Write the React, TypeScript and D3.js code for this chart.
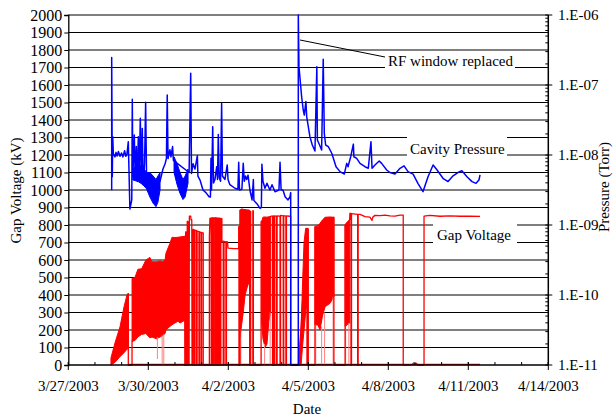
import React, { useEffect, useRef } from "react"
import * as d3 from "d3"

// day offsets are counted from 3/27/2003 00:00
const START = Date.UTC(2003, 2, 27)
const toDate = (d: number) => new Date(START + d * 864e5)

const dateTicks = [0, 3, 6, 9, 12, 15, 18]
const pressureTicks = [1e-11, 1e-10, 1e-9, 1e-8, 1e-7, 1e-6]

// Cavity pressure (Torr): [day, pressure]
const pressureTrace: [number, number][] = [
	[1.627, 3.13e-9], [1.627, 2.48e-7], [1.65, 4.9e-9], [1.665, 1.83e-8], [1.69, 1.04e-8],
	[1.75, 9.4e-9], [1.79, 1.09e-8], [1.83, 9.7e-9], [1.88, 1.12e-8], [1.94, 9.6e-9],
	[1.995, 1.07e-8], [2.05, 9.4e-9], [2.11, 1.15e-8], [2.16, 9.6e-9], [2.2, 1.03e-8],
	[2.25, 1.55e-8], [2.31, 1.69e-9], [2.38, 2.28e-9], [2.4, 6.24e-8], [2.42, 4.9e-9],
	[2.475, 1.93e-8], [2.51, 4.39e-9], [2.55, 1.32e-8], [2.59, 4.17e-9], [2.625, 1.83e-8],
	[2.66, 4.9e-9], [2.7, 3.35e-8], [2.74, 4.65e-9], [2.775, 2.4e-8], [2.81, 3.74e-9],
	[2.86, 7.5e-9], [2.9, 5.65e-8], [2.94, 3.53e-9], [3.44, 4.22e-9], [3.55, 6.3e-9],
	[3.63, 7.5e-9], [3.68, 8.96e-9], [3.71, 7.2e-8], [3.74, 8.9e-9], [3.81, 1.19e-8],
	[3.85, 9.4e-9], [3.91, 1.32e-8], [3.94, 8.4e-9], [4.53, 5.62e-9], [4.59, 1.47e-7],
	[4.62, 5.46e-9], [4.68, 7.5e-9], [4.75, 6.3e-9], [4.84, 9.8e-9], [4.86, 5.0e-9],
	[4.94, 4.39e-9], [5.05, 3.16e-9], [5.16, 2.9e-9], [5.28, 2.54e-9], [5.33, 2.51e-9],
	[5.35, 8.96e-9], [5.37, 3.16e-9], [5.415, 2.54e-8], [5.445, 3.98e-9], [5.5, 4.47e-9],
	[5.565, 6.8e-9], [5.595, 4.47e-9], [5.625, 1.97e-8], [5.66, 4.73e-9], [5.71, 4.22e-9],
	[5.75, 5.46e-8], [5.78, 5.0e-9], [5.875, 4.47e-9], [5.96, 7.2e-9], [5.99, 4.47e-9],
	[6.06, 3.76e-9], [6.25, 3.35e-9], [6.36, 3.25e-9], [6.39, 7.85e-9], [6.42, 3.16e-9],
	[6.51, 3.25e-9], [6.56, 7.6e-9], [6.6, 4.22e-9], [6.645, 5.0e-9], [6.69, 4.47e-9],
	[6.74, 5.16e-9], [6.81, 3.16e-9], [6.89, 2.28e-9], [6.94, 4.47e-9], [6.96, 2.24e-9],
	[7.08, 2.0e-9], [7.19, 1.73e-9], [7.24, 1.78e-9], [7.26, 7.4e-9], [7.3, 4.22e-9],
	[7.375, 3.35e-9], [7.45, 3.94e-9], [7.56, 3.16e-9], [7.64, 3.76e-9], [7.75, 2.99e-9],
	[7.9, 3.16e-9], [7.94, 7.85e-9], [7.98, 3.16e-9], [8.05, 3.16e-9], [8.13, 2.54e-9],
	[8.24, 2.28e-9], [8.31, 2.51e-9], [8.34, 2.9e-9], [8.34, 1e-11], [8.625, 1e-11],
	[8.625, 1e-6], [8.65, 1.83e-7], [8.69, 1.24e-7], [8.75, 6.8e-8], [8.81, 4.39e-8],
	[8.85, 3.72e-8], [8.91, 5.8e-8], [8.94, 3.53e-8], [9.0, 2.54e-8], [9.06, 1.83e-8],
	[9.15, 1.39e-8], [9.25, 1.14e-8], [9.32, 1.83e-7], [9.34, 1.64e-8], [9.415, 1.41e-8],
	[9.5, 1.18e-8], [9.56, 2.33e-7], [9.6, 2.04e-8], [9.65, 1.39e-8], [9.75, 1.32e-8],
	[9.88, 1.06e-8], [9.96, 8.46e-9], [10.04, 6.8e-9], [10.19, 5.79e-9], [10.35, 5.34e-9],
	[10.44, 7.59e-9], [10.49, 6.8e-9], [10.59, 9.44e-9], [10.69, 1.43e-8], [10.71, 9.44e-9],
	[10.815, 8.96e-9], [10.94, 7.59e-9], [11.125, 6.8e-9], [11.25, 6.46e-9], [11.35, 1.55e-8],
	[11.39, 6.46e-9], [11.5, 7.2e-9], [11.66, 8.22e-9], [11.75, 7.59e-9], [11.94, 6.1e-9],
	[12.06, 5.62e-9], [12.25, 5.34e-9], [12.44, 6.46e-9], [12.59, 7.0e-9], [12.74, 5.79e-9],
	[12.93, 5.34e-9], [13.11, 3.94e-9], [13.3, 2.99e-9], [13.49, 4.9e-9], [13.68, 7.2e-9],
	[13.83, 6.1e-9], [14.05, 4.65e-9], [14.24, 4.17e-9], [14.43, 5.04e-9], [14.61, 5.62e-9],
	[14.76, 5.96e-9], [14.95, 4.9e-9], [15.14, 4.17e-9], [15.29, 3.94e-9], [15.4, 4.39e-9],
	[15.44, 5.19e-9],
]

// dense pressure oscillation: [day, low, high]
const pressureBands: [number, number, number][][] = [
	[
		[2.42, 4.4e-9, 6.3e-9], [2.61, 4.2e-9, 7.5e-9], [2.8, 3.76e-9, 6.7e-9], [2.93, 3.3e-9, 5.62e-9],
		[3.06, 2.51e-9, 5.62e-9], [3.18, 2.05e-9, 5.0e-9], [3.29, 1.83e-9, 4.47e-9],
		[3.36, 2.11e-9, 5.0e-9], [3.44, 3.16e-9, 5.62e-9],
	],
	[
		[3.965, 5.62e-9, 9.4e-9], [4.08, 3.76e-9, 7.5e-9], [4.19, 2.82e-9, 5.62e-9],
		[4.3, 2.31e-9, 4.47e-9], [4.38, 2.51e-9, 5.0e-9], [4.49, 3.98e-9, 6.3e-9],
	],
]

// Gap voltage (kV): [day, kV]
const gapTrace: [number, number][] = [
	[2.25, 410], [2.25, 0], [2.39, 0], [2.39, 135], [4.36, 735], [4.37, 0], [4.4, 0], [4.4, 760],
	[4.42, 760], [4.42, 0], [4.46, 0], [4.46, 820], [4.49, 820], [4.5, 0], [4.53, 0], [4.54, 850],
	[4.59, 851], [4.6, 830], [4.63, 830], [4.64, 0], [4.68, 0], [4.68, 775], [4.73, 771], [4.73, 0],
	[4.75, 0], [4.75, 770], [4.81, 768], [4.81, 0], [4.83, 0], [4.83, 765], [4.9, 762], [4.9, 0],
	[4.92, 0], [4.92, 760], [4.98, 758], [4.98, 0], [5.0, 0], [5.0, 757], [5.06, 755], [5.06, 0],
	[5.29, 0], [5.29, 733], [5.31, 838], [5.35, 840], [5.36, 0], [5.38, 0], [5.38, 840], [5.42, 842],
	[5.42, 0], [5.45, 0], [5.45, 841], [5.5, 840], [5.5, 0], [5.53, 0], [5.53, 842], [5.57, 840],
	[5.57, 0], [5.59, 0], [5.59, 840], [5.62, 838], [5.62, 0], [5.65, 0], [5.65, 840], [5.69, 838],
	[5.69, 0], [5.72, 0], [5.72, 838], [5.76, 836], [5.76, 705], [5.81, 708], [5.81, 0], [5.84, 0],
	[5.84, 706], [5.91, 704], [5.91, 0], [5.93, 0], [5.93, 705], [5.97, 703], [5.99, 668],
	[6.2, 665], [6.39, 667], [6.39, 790], [6.4, 790], [6.4, 0], [6.44, 0], [6.44, 885], [6.79, 884],
	[6.8, 880], [6.8, 0], [6.82, 0], [6.82, 878], [6.84, 878], [6.84, 0], [6.92, 0], [6.92, 882],
	[6.94, 880], [6.94, 0], [7.23, 0], [7.23, 819], [7.25, 820], [7.59, 848], [7.6, 851],
	[7.66, 851], [7.66, 0], [7.68, 0], [7.68, 852], [7.71, 851], [7.71, 0], [7.74, 0], [7.74, 852],
	[7.81, 850], [7.81, 0], [7.83, 0], [7.83, 852], [7.94, 851], [7.94, 0], [7.96, 0], [7.96, 855],
	[8.06, 852], [8.06, 0], [8.08, 0], [8.08, 853], [8.16, 851], [8.16, 0], [8.18, 0], [8.18, 852],
	[8.3, 850], [8.34, 850], [8.34, 0], [8.64, 0], [8.95, 781], [8.95, 0], [8.97, 0], [8.97, 780],
	[9.0, 778], [9.0, 0], [9.25, 0], [9.25, 790], [9.96, 844], [9.96, 0], [10.38, 0], [10.38, 800],
	[10.55, 829], [10.56, 867], [10.6, 866], [10.6, 0], [10.62, 0], [10.62, 865], [10.85, 861],
	[10.85, 0], [10.87, 0], [10.87, 861], [10.94, 861], [11.13, 848], [11.31, 845], [11.39, 826],
	[11.42, 845], [11.5, 855], [11.69, 853], [11.88, 856], [12.06, 852], [12.25, 851], [12.44, 857],
	[12.56, 856], [12.56, 0], [12.88, 2], [12.95, 12], [13.0, 6], [13.06, 10], [13.1, 0], [13.34, 0],
	[13.34, 851], [13.56, 855], [13.94, 850], [14.31, 852], [14.69, 850], [15.06, 851], [15.44, 849],
]

// dense conditioning pulses: [day, low kV, high kV]
const gapBands: [number, number, number][][] = [
	[[1.6, 0, 40], [1.75, 15, 126], [1.94, 48, 219], [2.09, 70, 333], [2.2, 90, 400], [2.25, 95, 410]],
	[
		[2.39, 135, 495], [2.5, 140, 500], [2.61, 160, 547], [2.75, 175, 550], [2.91, 180, 600],
		[3.06, 155, 615], [3.14, 160, 590], [3.3, 150, 590], [3.44, 160, 595], [3.55, 170, 590],
		[3.63, 180, 600], [3.66, 200, 638], [3.81, 220, 695], [3.89, 230, 730], [4.0, 240, 728],
		[4.11, 250, 730], [4.19, 240, 732], [4.36, 255, 735],
	],
	[[6.44, 160, 885], [6.5, 230, 892], [6.56, 300, 890], [6.63, 400, 888], [6.7, 440, 886], [6.79, 480, 884]],
	[[7.25, 250, 820], [7.3, 150, 845], [7.38, 100, 846], [7.45, 120, 845], [7.52, 250, 847], [7.59, 300, 848]],
	[[8.64, 0, 60], [8.73, 0, 181], [8.78, 100, 450], [8.84, 200, 700], [8.9, 300, 781], [8.95, 350, 781]],
	[[9.25, 230, 790], [9.36, 228, 790], [9.44, 200, 810], [9.53, 280, 829], [9.63, 333, 844], [9.81, 352, 846], [9.96, 390, 844]],
	[[10.38, 220, 800], [10.46, 230, 815], [10.55, 240, 829]],
]

// short trips inside the dense parts: [day, low kV, high kV]
const gapDips: [number, number, number][] = [
	[3.34, 34, 160], [3.52, 0, 170], [3.58, 0, 175], [6.47, 0, 200], [7.36, 0, 120], [7.57, 0, 300],
	[9.28, 0, 230], [9.5, 0, 220], [9.61, 0, 300], [9.93, 0, 390], [10.4, 0, 220], [10.52, 0, 240],
]

const FONT = "'Liberation Serif', 'Times New Roman', serif"

const App = () => {
	const ref = useRef<SVGSVGElement>(null)

	useEffect(() => {
		const left = 68.3
		const right = 548.3
		const top = 15
		const bottom = 365

		const x = d3.scaleUtc().domain([toDate(0), toDate(18)]).range([left, right])
		const yV = d3.scaleLinear().domain([0, 2000]).range([bottom, top])
		const yP = d3.scaleLog().domain([1e-11, 1e-6]).range([bottom, top])

		const svg = d3.select(ref.current)
		svg.selectAll("*").remove()

		// gridlines
		svg
			.append("g")
			.selectAll("line")
			.data(yV.ticks(20).filter(d => d > 0))
			.enter()
			.append("line")
			.attr("x1", left)
			.attr("x2", right)
			.attr("y1", d => yV(d))
			.attr("y2", d => yV(d))
			.attr("stroke", "#000")
			.attr("stroke-width", 1)

		// white boxes behind the labels
		const boxes = [
			[385, 53, 130, 18],
			[407, 135, 100, 24],
			[433, 221, 84, 26],
		]
		svg
			.append("g")
			.selectAll("rect")
			.data(boxes)
			.enter()
			.append("rect")
			.attr("x", d => d[0])
			.attr("y", d => d[1])
			.attr("width", d => d[2])
			.attr("height", d => d[3])
			.attr("fill", "#fff")

		const RED = "#ff0000"
		const BLUE = "#0000ff"

		// Gap voltage
		const gapArea = d3
			.area<[number, number, number]>()
			.x(d => x(toDate(d[0])))
			.y0(d => yV(d[1]))
			.y1(d => yV(d[2]))
		const g = svg.append("g")
		gapBands.forEach(band => {
			g.append("path")
				.attr("d", gapArea(band))
				.attr("fill", RED)
				.attr("stroke", RED)
				.attr("stroke-width", 1)
		})
		g.append("line")
			.attr("x1", x(toDate(2.25)))
			.attr("x2", x(toDate(15.44)))
			.attr("y1", yV(0) - 0.5)
			.attr("y2", yV(0) - 0.5)
			.attr("stroke", RED)
			.attr("stroke-width", 1.5)
		g.selectAll("line.dip")
			.data(gapDips)
			.enter()
			.append("line")
			.attr("class", "dip")
			.attr("x1", d => x(toDate(d[0])))
			.attr("x2", d => x(toDate(d[0])))
			.attr("y1", d => yV(d[1]))
			.attr("y2", d => yV(d[2]))
			.attr("stroke", "#ff8080")
			.attr("stroke-width", 1)
		g.append("path")
			.attr(
				"d",
				d3
					.line<[number, number]>()
					.x(d => x(toDate(d[0])))
					.y(d => yV(d[1]))(gapTrace),
			)
			.attr("fill", "none")
			.attr("stroke", RED)
			.attr("stroke-width", 1.3)
			.attr("stroke-linejoin", "round")

		// Cavity pressure
		const pArea = d3
			.area<[number, number, number]>()
			.x(d => x(toDate(d[0])))
			.y0(d => yP(d[1]))
			.y1(d => yP(d[2]))
		const p = svg.append("g")
		pressureBands.forEach(band => {
			p.append("path")
				.attr("d", pArea(band))
				.attr("fill", BLUE)
				.attr("stroke", BLUE)
				.attr("stroke-width", 1)
		})
		p.append("path")
			.attr(
				"d",
				d3
					.line<[number, number]>()
					.x(d => x(toDate(d[0])))
					.y(d => yP(d[1]))(pressureTrace),
			)
			.attr("fill", "none")
			.attr("stroke", BLUE)
			.attr("stroke-width", 1.5)
			.attr("stroke-linejoin", "round")

		// left axis
		svg
			.append("g")
			.attr("transform", `translate(${left},0)`)
			.call(
				d3
					.axisLeft(yV)
					.ticks(20)
					.tickSize(4)
					.tickPadding(2)
					.tickFormat(d3.format("d")),
			)
			.call(a => a.select(".domain").attr("stroke", "#000").attr("stroke-width", 1.3))
			.call(a => a.selectAll("text").style("font-family", FONT).style("font-size", "16px").attr("fill", "#000"))

		// bottom axis
		const xa = svg.append("g")
		xa.append("line")
			.attr("x1", left)
			.attr("x2", right)
			.attr("y1", bottom)
			.attr("y2", bottom)
			.attr("stroke", "#000")
			.attr("stroke-width", 1.5)
		xa.selectAll("line.minor")
			.data(x.ticks(d3.utcDay.every(1)))
			.enter()
			.append("line")
			.attr("class", "minor")
			.attr("x1", d => x(d))
			.attr("x2", d => x(d))
			.attr("y1", bottom - 3)
			.attr("y2", bottom)
			.attr("stroke", "#000")
		xa.selectAll("line.major")
			.data(dateTicks)
			.enter()
			.append("line")
			.attr("class", "major")
			.attr("x1", d => x(toDate(d)))
			.attr("x2", d => x(toDate(d)))
			.attr("y1", bottom - 3)
			.attr("y2", bottom + 5)
			.attr("stroke", "#000")
		const fmt = d3.utcFormat("%-m/%-d/%Y")
		xa.selectAll("text")
			.data(dateTicks)
			.enter()
			.append("text")
			.attr("x", d => x(toDate(d)))
			.attr("y", 391)
			.attr("text-anchor", "middle")
			.style("font-family", FONT)
			.style("font-size", "15px")
			.text(d => fmt(toDate(d)))

		// right axis (log)
		const ra = svg.append("g")
		ra.append("line")
			.attr("x1", right)
			.attr("x2", right)
			.attr("y1", top)
			.attr("y2", bottom)
			.attr("stroke", "#000")
			.attr("stroke-width", 1.5)
		const minors = yP.ticks().filter(d => !pressureTicks.some(t => Math.abs(t - d) / t < 1e-6))
		ra.selectAll("line.minor")
			.data(minors)
			.enter()
			.append("line")
			.attr("class", "minor")
			.attr("x1", right - 3)
			.attr("x2", right)
			.attr("y1", d => yP(d))
			.attr("y2", d => yP(d))
			.attr("stroke", "#000")
		ra.selectAll("line.major")
			.data(pressureTicks)
			.enter()
			.append("line")
			.attr("class", "major")
			.attr("x1", right - 3)
			.attr("x2", right + 4)
			.attr("y1", d => yP(d))
			.attr("y2", d => yP(d))
			.attr("stroke", "#000")
		ra.selectAll("text")
			.data(pressureTicks)
			.enter()
			.append("text")
			.attr("x", 558)
			.attr("y", d => yP(d))
			.attr("dy", "0.35em")
			.style("font-family", FONT)
			.style("font-size", "15px")
			.text(d => `1.E-${String(Math.round(-Math.log10(d))).padStart(2, "0")}`)

		// titles
		const title = (txt: string, tx: number, ty: number, rot: number) =>
			svg
				.append("text")
				.attr("transform", `translate(${tx},${ty}) rotate(${rot})`)
				.attr("text-anchor", "middle")
				.style("font-family", FONT)
				.style("font-size", "15px")
				.text(txt)
		title("Gap Voltage (kV)", 21, 190.5, -90)
		title("Pressure (Torr)", 609, 187, -90)
		title("Date", 307, 414, 0)

		// annotations
		svg
			.append("line")
			.attr("x1", 300)
			.attr("y1", 40)
			.attr("x2", 385)
			.attr("y2", 57)
			.attr("stroke", "#000")
			.attr("stroke-width", 1)
		const note = (txt: string, tx: number, ty: number) =>
			svg
				.append("text")
				.attr("x", tx)
				.attr("y", ty)
				.style("font-family", FONT)
				.style("font-size", "15px")
				.text(txt)
		note("RF window replaced", 388, 66)
		note("Cavity Pressure", 410, 154)
		note("Gap Voltage", 437, 240)
	}, [])

	return (
		<svg
			ref={ref}
			width={613}
			height={417}
			style={{ position: "absolute", left: 0, top: 0, background: "#fff" }}
		></svg>
	)
}

export default App
